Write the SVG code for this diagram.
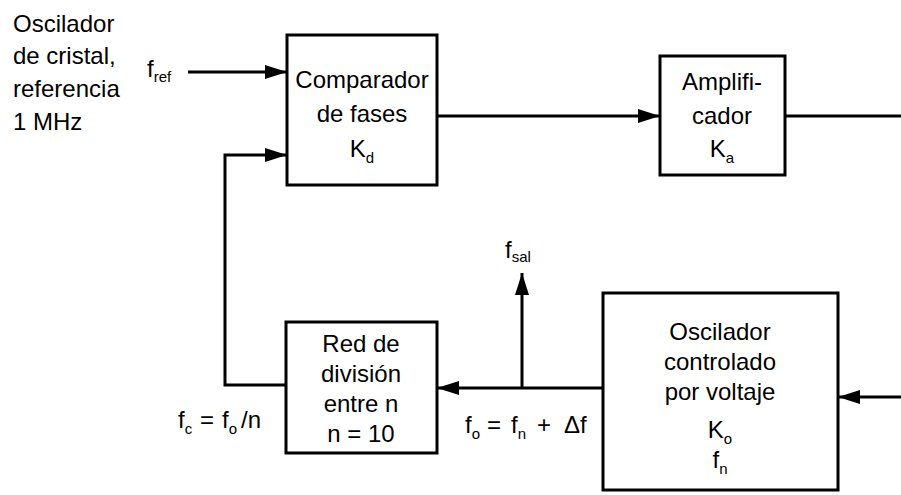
<svg xmlns="http://www.w3.org/2000/svg" width="901" height="495" viewBox="0 0 901 495">
<style>
  .box { fill: #ffffff; stroke: #000000; stroke-width: 3; }
  .wire { fill: none; stroke: #000000; stroke-width: 3; }
  .t { font-family: "Liberation Sans", Arial, sans-serif; font-size: 24px; fill: #000000; }
  .c { text-anchor: middle; }
  .sub { font-size: 15px; }
</style>
<defs>
  <marker id="arr" markerUnits="userSpaceOnUse" markerWidth="22" markerHeight="14" viewBox="0 0 22 14" refX="22" refY="7" orient="auto">
    <path d="M0,0 L22,7 L0,14 z" fill="#000000"/>
  </marker>
</defs>
<rect width="901" height="495" fill="#ffffff"/>

<g id="connectors">
  <path class="wire" d="M188,72 H287" marker-end="url(#arr)"/>
  <path class="wire" d="M437,116 H660" marker-end="url(#arr)"/>
  <path class="wire" d="M785,116 H901"/>
  <path class="wire" d="M901,397 H838" marker-end="url(#arr)"/>
  <path class="wire" d="M603,388 H437" marker-end="url(#arr)"/>
  <path class="wire" d="M522,388 V273" marker-end="url(#arr)"/>
  <path class="wire" d="M286,385 H225 V155 H287" marker-end="url(#arr)"/>
</g>

<g id="ref-osc">
  <text class="t" x="13" y="32">Oscilador</text>
  <text class="t" x="13" y="64">de cristal,</text>
  <text class="t" x="13" y="97">referencia</text>
  <text class="t" x="13" y="130">1 MHz</text>
</g>

<g id="comparador">
  <rect class="box" x="287" y="35" width="150" height="150"/>
  <text class="t c" x="362" y="88">Comparador</text>
  <text class="t c" x="362" y="122">de fases</text>
  <text class="t c" x="362" y="157">K<tspan class="sub" dy="6">d</tspan></text>
</g>

<g id="amplificador">
  <rect class="box" x="660" y="56" width="125" height="119"/>
  <text class="t c" x="722" y="90">Amplifi-</text>
  <text class="t c" x="722" y="124">cador</text>
  <text class="t c" x="722" y="157">K<tspan class="sub" dy="6">a</tspan></text>
</g>

<g id="divisor">
  <rect class="box" x="286" y="322" width="151" height="131"/>
  <text class="t c" x="361" y="352">Red de</text>
  <text class="t c" x="361" y="382">división</text>
  <text class="t c" x="361" y="412">entre n</text>
  <text class="t c" x="361" y="442">n = 10</text>
</g>

<g id="vco">
  <rect class="box" x="603" y="293" width="235" height="197"/>
  <text class="t c" x="720" y="340">Oscilador</text>
  <text class="t c" x="720" y="370">controlado</text>
  <text class="t c" x="720" y="400">por voltaje</text>
  <text class="t c" x="720" y="438">K<tspan class="sub" dy="6">o</tspan></text>
  <text class="t c" x="720" y="468">f<tspan class="sub" dy="6">n</tspan></text>
</g>

<g id="labels">
  <text class="t" x="147" y="77">f<tspan class="sub" dy="5">ref</tspan></text>
  <text class="t" x="505" y="258">f<tspan class="sub" dy="4">sal</tspan></text>
  <text class="t" x="178" y="428">f<tspan class="sub" dy="6">c</tspan><tspan x="200" dy="-6">=</tspan><tspan x="222">f</tspan><tspan class="sub" dy="6">o</tspan><tspan x="241" dy="-6">/n</tspan></text>
  <text class="t" x="465" y="433">f<tspan class="sub" dy="6">o</tspan><tspan x="487" dy="-6">=</tspan><tspan x="511">f</tspan><tspan class="sub" dy="6">n</tspan><tspan x="537" dy="-6">+</tspan><tspan x="564">Δf</tspan></text>
</g>
</svg>
